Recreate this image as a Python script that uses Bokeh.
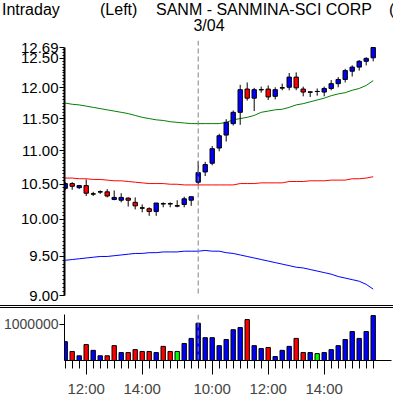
import numpy as np
from bokeh.plotting import figure
from bokeh.models import FixedTicker, Span, Div, Range1d, NumeralTickFormatter
from bokeh.layouts import column
from bokeh.embed import file_html
from bokeh.resources import INLINE

FONT = "Liberation Sans"

# ---- data (15-minute bars: 3/03 11:15-15:45, 3/04 9:30-15:45) ----
opens = [10.44, 10.51, 10.45, 10.48, 10.36, 10.39, 10.39, 10.28, 10.27, 10.30,
         10.24, 10.16, 10.15, 10.11, 10.22, 10.22, 10.19, 10.21, 10.27,
         10.53, 10.68, 10.81, 11.04, 11.24, 11.42, 11.60, 11.98, 11.83, 11.97,
         11.98, 11.86, 12.00, 12.01, 12.18, 11.98, 11.93, 11.94, 11.93, 11.99,
         12.07, 12.14, 12.28, 12.35, 12.45, 12.51]
highs = [10.53, 10.53, 10.49, 10.57, 10.39, 10.41, 10.43, 10.41, 10.37, 10.31,
         10.31, 10.21, 10.17, 10.23, 10.24, 10.24, 10.27, 10.32, 10.32,
         10.84, 10.83, 11.07, 11.26, 11.49, 11.63, 12.05, 12.09, 12.00, 12.02,
         12.04, 12.01, 12.07, 12.25, 12.26, 12.02, 11.93, 11.99, 12.02, 12.13,
         12.18, 12.32, 12.38, 12.47, 12.52, 12.69]
lows = [10.41, 10.42, 10.43, 10.33, 10.33, 10.36, 10.31, 10.27, 10.24, 10.18,
        10.14, 10.10, 10.05, 10.05, 10.17, 10.17, 10.17, 10.17, 10.19,
        10.50, 10.62, 10.78, 10.99, 11.14, 11.39, 11.40, 11.79, 11.62, 11.92,
        11.80, 11.81, 11.96, 11.96, 11.96, 11.86, 11.85, 11.87, 11.86, 11.96,
        12.01, 12.09, 12.19, 12.29, 12.38, 12.45]
closes = [10.51, 10.47, 10.48, 10.37, 10.36, 10.39, 10.33, 10.31, 10.31, 10.27,
          10.19, 10.16, 10.11, 10.23, 10.22, 10.22, 10.19, 10.29, 10.32,
          10.67, 10.79, 11.03, 11.23, 11.44, 11.60, 11.97, 11.83, 11.97, 11.97,
          11.85, 11.97, 12.00, 12.18, 12.00, 11.93, 11.93, 11.94, 11.99, 12.07,
          12.14, 12.29, 12.35, 12.45, 12.50, 12.69]
volumes = [520000, 250000, 130000, 440000, 280000, 130000, 130000, 410000, 220000, 220000,
           300000, 250000, 250000, 220000, 390000, 250000, 250000, 470000, 610000,
           1030000, 630000, 630000, 410000, 580000, 850000, 910000, 1130000, 410000, 330000,
           360000, 110000, 280000, 390000, 610000, 220000, 220000, 190000, 220000, 300000,
           410000, 580000, 800000, 610000, 800000, 1240000]
vol_dir = [1, -1, 1, -1, 1, 1, -1, -1, 1, -1, -1, -1, -1, 1, -1, -1, 0, 1, 1,
           1, 1, 1, 1, 1, 1, 1, -1, 1, 1, -1, 1, 1, 1, -1, -1, 1, 0, 1, 1,
           1, 1, 1, 1, 1, 1]
green_line = [11.75, 11.73, 11.72, 11.70, 11.68, 11.66, 11.64, 11.62, 11.60, 11.58,
              11.55, 11.52, 11.50, 11.48, 11.47, 11.45, 11.44, 11.43, 11.42,
              11.42, 11.42, 11.42, 11.42, 11.44, 11.48, 11.50, 11.52, 11.55, 11.60,
              11.62, 11.64, 11.65, 11.68, 11.72, 11.74, 11.77, 11.80, 11.83, 11.87,
              11.90, 11.92, 11.96, 11.99, 12.04, 12.12]
red_line = [10.59, 10.59, 10.58, 10.58, 10.57, 10.57, 10.56, 10.55, 10.55, 10.54,
            10.53, 10.52, 10.51, 10.51, 10.51, 10.50, 10.50, 10.49, 10.49,
            10.49, 10.49, 10.49, 10.49, 10.49, 10.49, 10.51, 10.51, 10.51, 10.52,
            10.52, 10.52, 10.52, 10.54, 10.54, 10.54, 10.55, 10.55, 10.55, 10.56,
            10.56, 10.56, 10.58, 10.58, 10.59, 10.61]
blue_line = [9.45, 9.46, 9.47, 9.48, 9.49, 9.50, 9.50, 9.51, 9.52, 9.53,
             9.54, 9.54, 9.55, 9.55, 9.56, 9.56, 9.56, 9.57, 9.57,
             9.57, 9.58, 9.57, 9.57, 9.55, 9.54, 9.52, 9.50, 9.48, 9.46,
             9.44, 9.42, 9.40, 9.38, 9.36, 9.35, 9.33, 9.31, 9.29, 9.27,
             9.24, 9.22, 9.20, 9.18, 9.14, 9.08]
time_tick_idx = [3, 11, 21, 29, 37]
time_tick_labels = ["12:00", "14:00", "10:00", "12:00", "14:00"]
day_break_idx = 19
price_ticks = [9.00, 9.50, 10.00, 10.50, 11.00, 11.50, 12.00, 12.50, 12.69]
price_min, price_max = 9.00, 12.69
vol_ticks = [1000000]
vol_max = 1270000
title_texts = ["Intraday", "(Left)", "SANM - SANMINA-SCI CORP", "("]
date_label = "3/04"

n = len(closes)
xs = list(range(n))

BLUE = "#0000ff"
RED = "#ff0000"
GREEN = "#00ff00"

TOTAL_W = 393
LEFT = 61
RIGHT = 5
FRAME_W = TOTAL_W - LEFT - RIGHT
BAR_PX = 7.0
X0 = -0.1
HEAD_H = 36
PRICE_SPAN = 248      # pixels between 9.00 and 12.69
PRICE_EXTRA = 7       # frame space above 12.69
PRICE_H = PRICE_SPAN + PRICE_EXTRA
VOL_H = 46

x_range = Range1d(X0, X0 + FRAME_W / BAR_PX)
y_top = price_min * (price_max / price_min) ** (PRICE_H / PRICE_SPAN)

# ---- header (title texts) ----
tick21_x = LEFT + (time_tick_idx[2] - X0) * BAR_PX
span_style = "position:absolute;white-space:pre;"
head_html = (
    f'<div style="position:relative;width:{TOTAL_W}px;height:{HEAD_H}px;overflow:hidden;'
    f'font-family:\'{FONT}\';font-size:16px;line-height:16px;color:black;">'
    f'<span style="{span_style}left:2px;top:2px;">{title_texts[0]}</span>'
    f'<span style="{span_style}left:100px;top:2px;">{title_texts[1]}</span>'
    f'<span style="{span_style}left:156px;top:2px;">{title_texts[2]}</span>'
    f'<span style="{span_style}left:389px;top:2px;">{title_texts[3]}</span>'
    f'<span style="{span_style}left:{tick21_x - 40:.0f}px;width:80px;text-align:center;top:18px;">{date_label}</span>'
    '</div>'
)
head = Div(text=head_html, width=TOTAL_W, height=HEAD_H, margin=0)

# ---- price panel ----
p = figure(frame_width=FRAME_W, frame_height=PRICE_H, x_range=x_range,
           y_range=Range1d(price_min, y_top), y_axis_type="log",
           x_axis_location=None, output_backend="svg", toolbar_location=None,
           min_border_left=LEFT, min_border_right=RIGHT,
           min_border_top=47 - PRICE_EXTRA - HEAD_H, min_border_bottom=10)
p.outline_line_color = None
p.grid.visible = False

ya = p.yaxis[0]
minor = [round(price_min + 0.05 * k, 2) for k in range(int((price_max - price_min) / 0.05) + 1)]
ya.ticker = FixedTicker(ticks=price_ticks, minor_ticks=minor)
ya.formatter = NumeralTickFormatter(format="0.00")
ya.bounds = (price_min, price_max)
ya.axis_line_color = "black"
ya.axis_line_width = 2
ya.major_tick_out = 5
ya.major_tick_in = 0
ya.minor_tick_out = 2
ya.minor_tick_in = 0
ya.major_tick_line_color = "black"
ya.minor_tick_line_color = "black"
ya.major_label_text_font = FONT
ya.major_label_text_font_size = "15px"
ya.major_label_text_color = "black"
ya.major_label_standoff = 1

p.add_layout(Span(location=day_break_idx, dimension="height", line_color="#808080",
                  line_dash="5 3", line_width=1))

p.line(xs, green_line, line_color="#008000", line_width=1)
p.line(xs, red_line, line_color=RED, line_width=1)
p.line(xs, blue_line, line_color=BLUE, line_width=1)

body_top = [max(o, c) for o, c in zip(opens, closes)]
body_bot = [min(o, c) for o, c in zip(opens, closes)]
body_col = [BLUE if c > o else (RED if c < o else "black") for o, c in zip(opens, closes)]
p.segment(xs, highs, xs, lows, line_color="black", line_width=1)
p.vbar(x=xs, top=body_top, bottom=body_bot, width=0.62, fill_color=body_col,
       line_color="black", line_width=1)
doji_x = [i for i in xs if opens[i] == closes[i]]
doji_y = [closes[i] for i in doji_x]
p.segment([i - 0.33 for i in doji_x], doji_y, [i + 0.33 for i in doji_x], doji_y,
          line_color="black", line_width=1)

# ---- separator (double rule) ----
sep = Div(text="", width=TOTAL_W, height=3, margin=0,
          styles={"border-top": "1px solid black", "border-bottom": "1px solid black",
                  "box-sizing": "border-box"})

# ---- volume panel ----
v = figure(frame_width=FRAME_W, frame_height=VOL_H, x_range=x_range,
           y_range=Range1d(0, vol_max), output_backend="svg", toolbar_location=None,
           min_border_left=LEFT, min_border_right=RIGHT, min_border_top=6,
           min_border_bottom=0)
v.outline_line_color = None
v.grid.visible = False

vya = v.yaxis[0]
vya.ticker = FixedTicker(ticks=vol_ticks)
vya.formatter = NumeralTickFormatter(format="0")
vya.axis_line_color = "black"
vya.major_tick_out = 5
vya.major_tick_in = 0
vya.minor_tick_line_color = None
vya.major_tick_line_color = "black"
vya.major_label_text_font = FONT
vya.major_label_text_font_size = "14px"
vya.major_label_standoff = 1

vxa = v.xaxis[0]
vxa.ticker = FixedTicker(ticks=time_tick_idx, minor_ticks=xs)
vxa.major_label_overrides = {i: t for i, t in zip(time_tick_idx, time_tick_labels)}
vxa.axis_line_color = "black"
vxa.major_tick_out = 14
vxa.major_tick_in = 0
vxa.minor_tick_out = 8
vxa.minor_tick_in = 0
vxa.major_tick_line_color = "black"
vxa.minor_tick_line_color = "black"
vxa.major_label_text_font = FONT
vxa.major_label_text_font_size = "15px"
vxa.major_label_standoff = 5

v.add_layout(Span(location=day_break_idx, dimension="height", line_color="#808080",
                  line_dash="5 3", line_width=1))
vcol = [BLUE if d > 0 else (RED if d < 0 else GREEN) for d in vol_dir]
v.vbar(x=xs, top=volumes, bottom=0, width=0.62, fill_color=vcol,
       line_color="black", line_width=1)

layout = column(head, p, sep, v, spacing=0)
open("out.html", "w").write(file_html(layout, INLINE))
